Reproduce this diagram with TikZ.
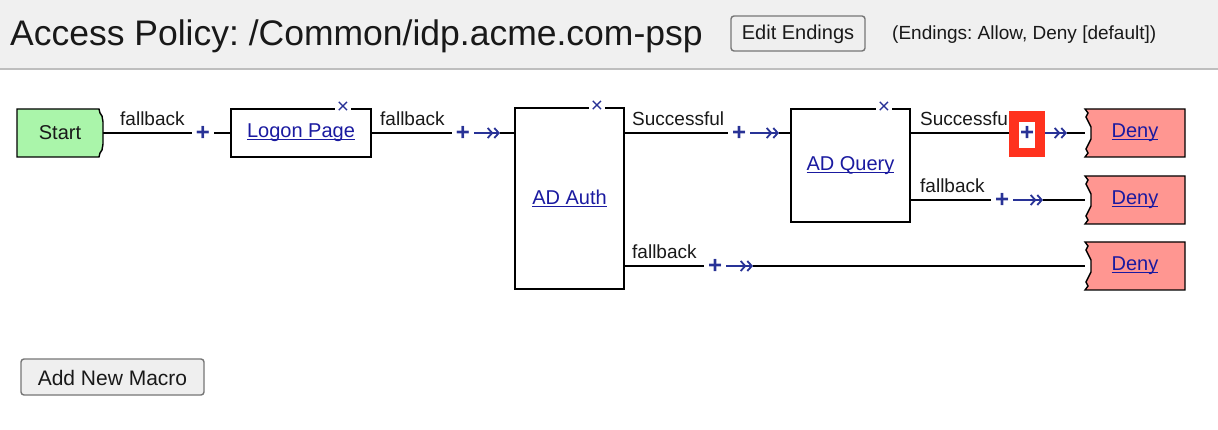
\documentclass[tikz,border=0pt]{standalone}
\usepackage{fontspec}
\setmainfont{Liberation Sans}
\usetikzlibrary{arrows.meta}
\definecolor{startgreen}{RGB}{170,245,170}
\definecolor{denyred}{RGB}{255,150,145}
\definecolor{linkblue}{RGB}{26,26,160}
\definecolor{plusblue}{RGB}{40,50,150}
\definecolor{hdr}{RGB}{240,240,240}
\definecolor{hdrline}{RGB}{190,190,190}
\definecolor{btnborder}{RGB}{118,118,118}
\definecolor{btnfill}{RGB}{239,239,239}
\definecolor{hlred}{RGB}{255,50,30}
\definecolor{txt}{RGB}{25,25,25}
\newcommand\lnk[1]{\setbox0=\hbox{#1}\rlap{\rule[-2.4pt]{\wd0}{1.1pt}}\box0}
\frenchspacing
\pgfdeclarelayer{back}
\pgfdeclarelayer{bg}
\pgfsetlayers{back,bg,main}
\begin{document}
\begin{tikzpicture}[x=1pt,y=-1pt,
  box/.style={draw=black, line width=1.4pt, fill=white, inner sep=0pt, text=linkblue, font=\fontsize{20}{24}\selectfont},
  shapeline/.style={draw=black, line width=1.4pt},
  lbl/.style={font=\fontsize{19}{22}\selectfont, text=txt, inner sep=0pt, anchor=base west},
  plusn/.style={text=plusblue, font=\fontsize{24}{24}\selectfont\bfseries, inner ysep=0pt, inner xsep=0pt, outer xsep=4pt},
  conn/.style={line width=1.3pt, draw=black},
  chv/.style={line width=1.3pt, draw=plusblue, -{Straight Barb[length=4.5pt,width=10pt,line width=1.8pt] Straight Barb[length=4.5pt,width=10pt,line width=1.8pt]}},
  xmark/.style={text=plusblue, fill=white, inner sep=1.5pt, font=\fontsize{21}{21}\selectfont},
  btn/.style={draw=btnborder, fill=btnfill, line width=1.4pt, rounded corners=3pt},
  endtxt/.style={text=linkblue, font=\fontsize{20}{24}\selectfont, inner sep=0pt, minimum width=100pt, minimum height=48pt},
]
\useasboundingbox (0,0) rectangle (1218,430);
\begin{pgfonlayer}{back}
\fill[white] (0,0) rectangle (1218,430);
\end{pgfonlayer}
% header
\fill[hdr] (0,0) rectangle (1218,68);
\draw[hdrline, line width=2pt] (0,69) -- (1218,69);
\node[anchor=base west, font=\fontsize{35.5}{40}\selectfont, text=txt, inner sep=0pt] (title) at (10,46) {Access Policy: /Common/idp.acme.com-psp};
\draw[btn] (731,16) rectangle (865,51);
\node[font=\fontsize{20}{22}\selectfont, text=txt] (editend) at (798,34) {Edit Endings};
\node[anchor=west, font=\fontsize{19}{22}\selectfont, text=txt, inner sep=0pt] (endings) at (892,35) {(Endings: Allow, Deny [default])};

% start
\filldraw[fill=startgreen, shapeline] (17,109) -- (99,109) -- (100,113) -- (102,116) -- (103,122) -- (103,144) -- (102,150) -- (100,153) -- (99,157) -- (17,157) -- cycle;
\node[font=\fontsize{20}{24}\selectfont, text=txt, inner sep=0pt, minimum width=86pt, minimum height=48pt] (start) at (60,133) {Start};

% boxes
\node[box, minimum width=140pt, minimum height=48pt] (logon) at (301,133) {\lnk{Logon Page}};
\node[box, minimum width=109pt, minimum height=181pt] (adauth) at (569.5,198.5) {\lnk{AD Auth}};
\node[box, minimum width=119pt, minimum height=113pt] (adquery) at (850.5,165.5) {\lnk{AD Query}};
\node[xmark] (x1) at (343,108) {×};
\node[xmark] (x2) at (597,107) {×};
\node[xmark] (x3) at (884,108) {×};

% deny endings
\foreach \t/\n in {109/deny1,176/deny2,242/deny3}{
  \filldraw[fill=denyred, shapeline] (1085,\t) -- (1185,\t) -- (1185,{\t+48}) -- (1085,{\t+48}) -- (1088,{\t+44}) -- (1086,{\t+40}) -- (1088,{\t+36}) -- (1091,{\t+30}) -- (1091,{\t+18}) -- (1088,{\t+12}) -- (1086,{\t+8}) -- (1088,{\t+4}) -- cycle;
  \node[endtxt] (\n) at (1135,{\t+24}) {\lnk{Deny}};
}

% plus markers and chevron ends
\node[plusn] (plus1) at (203,133) {+};
\node[plusn] (plus2) at (463,133) {+};
\node[plusn] (plus3) at (739,133) {+};
\node[plusn] (plus4) at (715,266) {+};
\node[plusn] (plus6) at (1002,200) {+};
\coordinate (chev2) at (500,133);
\coordinate (chev3) at (779,133);
\coordinate (chev4) at (753,266);
\coordinate (chev5) at (1067,133);
\coordinate (chev6) at (1043,200);

% labels
\node[lbl] (l1) at (120,126) {fallback};
\node[lbl] (l2) at (380,126) {fallback};
\node[lbl] (l3) at (632,126) {Successful};
\node[lbl] (l4) at (632,259) {fallback};
\node[lbl] (l5) at (920,126) {Successful};
\node[lbl] (l6) at (920,193) {fallback};

% highlight
\fill[hlred] (1009,111) rectangle (1045,157);
\fill[white] (1019,122) rectangle (1035,148);
\node[plusn] (plus5) at (1027,133) {+};

% connectors
\begin{pgfonlayer}{bg}
\draw[conn] (start.east) -- (plus1.west);
\draw[conn] (plus1.east) -- (logon.west);
\draw[conn] (logon.east) -- (plus2.west);
\draw[chv] (plus2.east) -- (chev2);
\draw[conn] (chev2) -- (plus2 -| adauth.west);
\draw[conn] (plus3 -| adauth.east) -- (plus3.west);
\draw[chv] (plus3.east) -- (chev3);
\draw[conn] (chev3) -- (plus3 -| adquery.west);
\draw[conn] (plus4 -| adauth.east) -- (plus4.west);
\draw[chv] (plus4.east) -- (chev4);
\draw[conn] (chev4) -- (chev4 -| deny3.west);
\draw[conn] (plus5 -| adquery.east) -- (plus5.west);
\draw[chv] (plus5.east) -- (chev5);
\draw[conn] (chev5) -- (chev5 -| deny1.west);
\draw[conn] (plus6 -| adquery.east) -- (plus6.west);
\draw[chv] (plus6.east) -- (chev6);
\draw[conn] (chev6) -- (chev6 -| deny2.west);
\end{pgfonlayer}

% add macro button
\draw[btn] (21,359) rectangle (204,395);
\node[font=\fontsize{21}{24}\selectfont, text=txt] (addmacro) at (112.5,378) {Add New Macro};
\end{tikzpicture}
\end{document}
